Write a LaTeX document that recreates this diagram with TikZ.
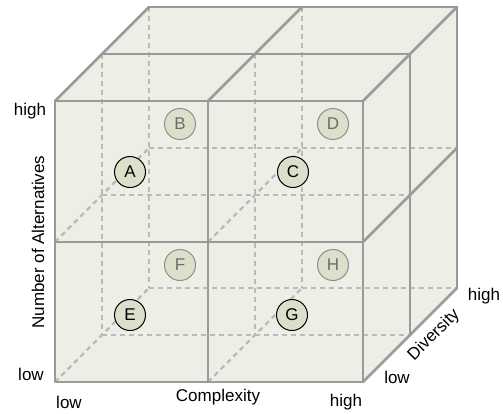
\documentclass[tikz,border=0pt]{standalone}
\usepackage{fontspec}
\setmainfont{Liberation Sans}
\definecolor{cubefill}{HTML}{EDEEE6}
\definecolor{solidline}{HTML}{9A9A9A}
\definecolor{hidline}{HTML}{BABABA}
\definecolor{dotfill}{HTML}{DCE0CB}
\definecolor{dimborder}{HTML}{8E8E8E}
\definecolor{dimtext}{HTML}{6C6C6C}
\begin{document}
\begin{tikzpicture}[x=1pt,y=-1pt,
  edge/.style={draw=solidline,line width=2.5pt,line cap=round,line join=round},
  hidden/.style={draw=hidline,line width=2.2pt,dash pattern=on 5pt off 4pt},
  dotbase/.style={circle,minimum size=31pt,inner sep=0pt,fill=dotfill,line width=1pt,font=\fontsize{17}{20}\selectfont},
  frontdot/.style={dotbase,draw=black,text=black},
  backdot/.style={dotbase,draw=dimborder,text=dimtext},
  lbl/.style={font=\fontsize{17}{20}\selectfont,inner sep=0pt}]
\useasboundingbox (0,0) rectangle (503,413);
% cube body
\fill[cubefill] (55,101) -- (149,7) -- (457,7) -- (457,288) -- (363,382) -- (55,382) -- cycle;
% hidden lines
\foreach \d in {47,94}{
  \foreach \x in {55,208}{
    \draw[hidden] ({\x+\d},{101-\d}) -- ({\x+\d},{382-\d});
  }
  \foreach \y in {242,382}{
    \draw[hidden] ({55+\d},{\y-\d}) -- ({363+\d},{\y-\d});
  }
}
\foreach \x in {55,208}{
  \foreach \y in {242,382}{
    \draw[hidden] (\x,\y) -- ({\x+94},{\y-94});
  }
}
% visible edges
\draw[edge] (55,101) rectangle (363,382);
\draw[edge] (208,101) -- (208,382);
\draw[edge] (55,242) -- (363,242);
\foreach \d in {47,94}{
  \draw[edge] ({55+\d},{101-\d}) -- ({363+\d},{101-\d});
  \draw[edge] ({363+\d},{101-\d}) -- ({363+\d},{382-\d});
}
\foreach \x in {55,208,363}{
  \draw[edge] (\x,101) -- ({\x+94},7);
}
\foreach \y in {242,382}{
  \draw[edge] (363,\y) -- (457,{\y-94});
}
% points
\node[backdot] (B) at (180,124) {B};
\node[backdot] (D) at (333,124) {D};
\node[backdot] (F) at (180,265) {F};
\node[backdot] (H) at (333,265) {H};
\node[frontdot] (A) at (130,172) {A};
\node[frontdot] (C) at (293,172) {C};
\node[frontdot] (E) at (130,315) {E};
\node[frontdot] (G) at (292,315) {G};
% axis labels
\node[lbl] (yhigh) at (30,111) {high};
\node[lbl] (ylow) at (31,374) {low};
\node[lbl,rotate=90] (ylab) at (38,242) {Number of Alternatives};
\node[lbl] (xlow) at (69,402) {low};
\node[lbl] (xlab) at (218,397) {Complexity};
\node[lbl] (xhigh) at (346,402) {high};
\node[lbl] (zlow) at (397,377) {low};
\node[lbl,rotate=45] (zlab) at (434,335) {Diversity};
\node[lbl] (zhigh) at (484,296) {high};
\end{tikzpicture}
\end{document}
